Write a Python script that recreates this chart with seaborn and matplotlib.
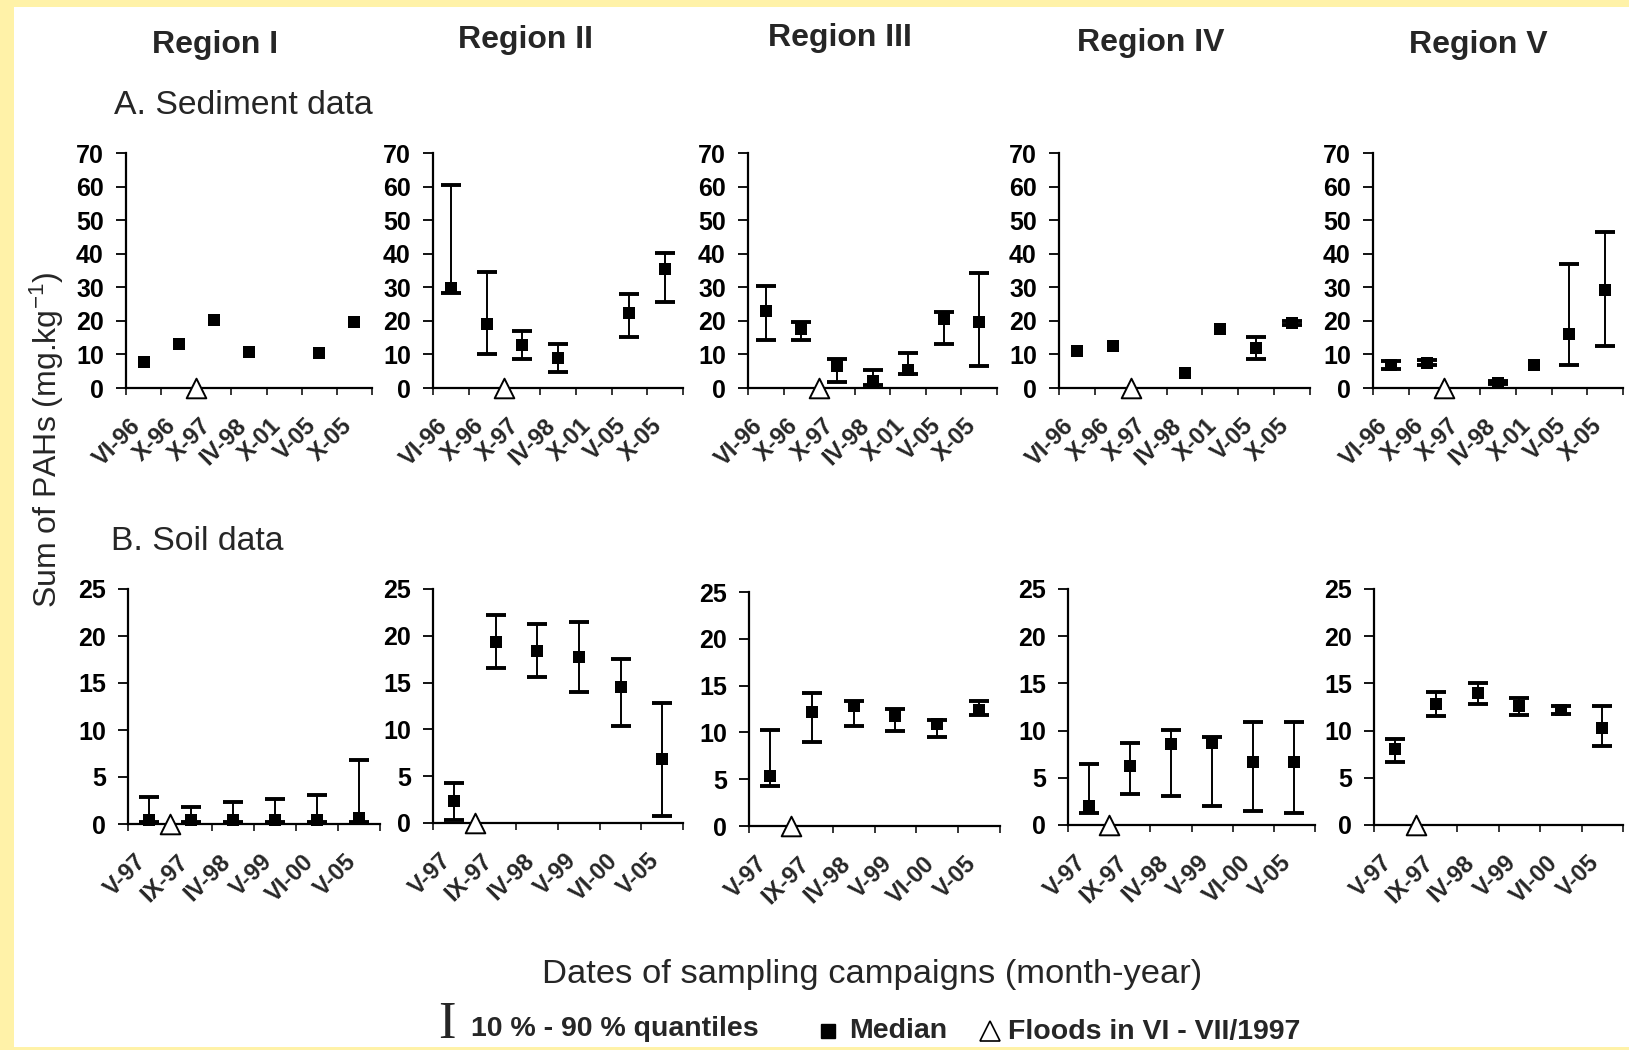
import numpy as np
import matplotlib
matplotlib.use("Agg")
import matplotlib.pyplot as plt
from matplotlib.patches import Rectangle
from matplotlib.lines import Line2D
import seaborn as sns

# ---------------- data ----------------
regions = ["Region I", "Region II", "Region III", "Region IV", "Region V"]
sed_dates = ["VI-96", "X-96", "X-97", "IV-98", "X-01", "V-05", "X-05"]
soil_dates = ["V-97", "IX-97", "IV-98", "V-99", "VI-00", "V-05"]
nan = np.nan

# Sediment (A): median, 10 % quantile, 90 % quantile
sed_med_I = [7.6, 13.2, 20.4, 10.8, nan, 10.3, 19.7]
sed_q10_I = [nan, nan, nan, nan, nan, nan, nan]
sed_q90_I = [nan, nan, nan, nan, nan, nan, nan]

sed_med_II = [29.9, 19.0, 12.7, 9.0, nan, 22.2, 35.5]
sed_q10_II = [28.2, 10.0, 8.6, 4.8, nan, 15.2, 25.7]
sed_q90_II = [60.6, 34.5, 16.9, 13.0, nan, 27.9, 40.1]

sed_med_III = [22.8, 17.7, 6.6, 2.0, 5.5, 20.5, 19.7]
sed_q10_III = [14.4, 14.4, 1.8, 0.8, 4.3, 13.0, 6.5]
sed_q90_III = [30.3, 19.6, 8.7, 5.5, 10.5, 22.5, 34.4]

sed_med_IV = [10.9, 12.6, nan, 4.5, 17.7, 11.9, 19.5]
sed_q10_IV = [nan, nan, nan, nan, nan, 8.7, 18.8]
sed_q90_IV = [nan, nan, nan, nan, nan, 15.2, 20.0]

sed_med_V = [6.8, 7.5, nan, 1.5, 7.0, 16.0, 29.1]
sed_q10_V = [5.8, 7.0, nan, 1.1, nan, 6.8, 12.4]
sed_q90_V = [8.0, 8.4, nan, 2.1, nan, 36.8, 46.5]

# Soil (B): median, 10 % quantile, 90 % quantile
soil_med_I = [0.4, 0.4, 0.4, 0.4, 0.4, 0.6]
soil_q10_I = [0.2, 0.2, 0.2, 0.2, 0.2, 0.2]
soil_q90_I = [2.9, 1.8, 2.3, 2.7, 3.1, 6.8]

soil_med_II = [2.4, 19.3, 18.4, 17.7, 14.5, 6.8]
soil_q10_II = [0.35, 16.6, 15.6, 14.0, 10.4, 0.8]
soil_q90_II = [4.3, 22.2, 21.3, 21.5, 17.5, 12.8]

soil_med_III = [5.3, 12.2, 12.8, 11.8, 10.9, 12.4]
soil_q10_III = [4.3, 9.0, 10.7, 10.2, 9.5, 11.9]
soil_q90_III = [10.3, 14.2, 13.4, 12.5, 11.3, 13.4]

soil_med_IV = [2.0, 6.3, 8.6, 8.7, 6.7, 6.7]
soil_q10_IV = [1.3, 3.3, 3.1, 2.0, 1.5, 1.3]
soil_q90_IV = [6.5, 8.7, 10.1, 9.3, 10.9, 10.9]

soil_med_V = [8.0, 12.8, 14.0, 12.6, 12.2, 10.3]
soil_q10_V = [6.7, 11.5, 12.8, 11.7, 11.8, 8.4]
soil_q90_V = [9.1, 14.1, 15.0, 13.5, 12.6, 12.6]

# flood (VI-VII/1997) falls between these campaigns (category-gap position)
flood_after_sed = "X-96"
flood_after_soil = "V-97"

sed_ymax, sed_step = 70, 10
soil_ymax, soil_step = 25, 5

sed_series = [(sed_med_I, sed_q10_I, sed_q90_I), (sed_med_II, sed_q10_II, sed_q90_II),
              (sed_med_III, sed_q10_III, sed_q90_III), (sed_med_IV, sed_q10_IV, sed_q90_IV),
              (sed_med_V, sed_q10_V, sed_q90_V)]
soil_series = [(soil_med_I, soil_q10_I, soil_q90_I), (soil_med_II, soil_q10_II, soil_q90_II),
               (soil_med_III, soil_q10_III, soil_q90_III), (soil_med_IV, soil_q10_IV, soil_q90_IV),
               (soil_med_V, soil_q10_V, soil_q90_V)]

# ---------------- style ----------------
sns.set_style("ticks")
plt.rcParams['font.family'] = ['Liberation Sans', 'DejaVu Sans']
plt.rcParams['mathtext.fontset'] = 'custom'
plt.rcParams['mathtext.rm'] = 'Liberation Sans'
plt.rcParams['mathtext.it'] = 'Liberation Sans:italic'
plt.rcParams['mathtext.bf'] = 'Liberation Sans:bold'

W, H = 1629, 1050
fig = plt.figure(figsize=(W / 100, H / 100), dpi=100)
fig.patch.set_facecolor("white")
YEL = "#FFF2A8"
for (x0, y0, w, h) in [(0, 0, 14, H), (0, 0, W, 7), (0, H - 3, W, 3)]:
    fig.add_artist(Rectangle((x0 / W, 1 - (y0 + h) / H), w / W, h / H,
                             transform=fig.transFigure, facecolor=YEL,
                             edgecolor="none", zorder=-10))


def px_axes(left, right, top, bottom):
    return fig.add_axes([left / W, 1 - bottom / H, (right - left) / W, (bottom - top) / H])


top_boxes = [(126, 372, 153, 388), (433, 683, 153, 388), (748, 997, 153, 388),
             (1059, 1310, 153, 388), (1373, 1623, 153, 388)]
bot_boxes = [(128, 380, 589, 824), (433, 683, 589, 823), (749, 1000, 592, 826),
             (1068, 1315, 589, 825), (1374, 1623, 589, 825)]


def draw_panel(ax, dates, med, lo, hi, ymax, step, flood_after):
    n = len(dates)
    pos = np.arange(n)
    med = np.asarray(med, float)
    lo = np.asarray(lo, float)
    hi = np.asarray(hi, float)
    ok = ~np.isnan(lo) & ~np.isnan(hi)
    if ok.any():
        ax.errorbar(pos[ok], (lo[ok] + hi[ok]) / 2, yerr=(hi[ok] - lo[ok]) / 2,
                    fmt='none', ecolor='black', elinewidth=1.4, capsize=7.5,
                    capthick=2.8, zorder=2, clip_on=False)
    m = ~np.isnan(med)
    sns.scatterplot(x=pos[m], y=med[m], marker='s', color='black', s=70,
                    linewidth=0, ax=ax, zorder=3, clip_on=False)
    fpos = dates.index(flood_after) + 0.5
    sns.scatterplot(x=[fpos], y=[0], marker='^', s=200, facecolor='white',
                    edgecolor='black', linewidth=1.4, ax=ax, zorder=5, clip_on=False)
    ax.set_xlim(-0.5, n - 0.5)
    ax.set_ylim(0, ymax)
    sns.despine(ax=ax)
    for sp in ("left", "bottom"):
        ax.spines[sp].set_linewidth(1.6)
        ax.spines[sp].set_color("black")
    ax.set_yticks(np.arange(0, ymax + 1, step))
    ax.set_yticklabels([str(v) for v in range(0, ymax + 1, step)],
                       fontsize=18, fontweight='bold')
    ax.tick_params(axis='y', direction='out', length=7, width=1.3, pad=9, colors='black')
    # category boundaries carry the tick marks; labels sit under category centres
    ax.set_xticks(np.arange(-0.5, n))
    ax.set_xticklabels([])
    ax.tick_params(axis='x', direction='out', length=5, width=1.3)
    for p, d in zip(pos, dates):
        ax.annotate(d, xy=(p, 0), xycoords=('data', 'axes fraction'),
                    xytext=(-10.5, -19), textcoords='offset points',
                    rotation=45, ha='right', va='top', rotation_mode='anchor',
                    fontsize=17, fontweight='bold', annotation_clip=False)
    ax.set_xlabel("")
    ax.set_ylabel("")
    ax.set_facecolor("none")


for i in range(5):
    ax = px_axes(*top_boxes[i])
    draw_panel(ax, sed_dates, *sed_series[i], sed_ymax, sed_step, flood_after_sed)
    ax = px_axes(*bot_boxes[i])
    draw_panel(ax, soil_dates, *soil_series[i], soil_ymax, soil_step, flood_after_soil)


def ftext(x, y, s, **kw):
    fig.text(x / W, 1 - y / H, s, **kw)


title_pos = [(215, 45), (526, 40), (840, 38), (1151, 43), (1478, 45)]
for name, (x, y) in zip(regions, title_pos):
    ftext(x, y, name, fontsize=23, fontweight='bold', ha='center', va='center')

ftext(114, 105, "A. Sediment data", fontsize=24.3, ha='left', va='center')
ftext(111, 541, "B. Soil data", fontsize=24.3, ha='left', va='center')
ftext(47, 440, "Sum of PAHs (mg.kg$^{-1}$)", fontsize=23, rotation=90,
      ha='center', va='center')
ftext(872, 975, "Dates of sampling campaigns (month-year)", fontsize=24.8,
      ha='center', va='center')

# legend row
ftext(447, 1025, "I", fontsize=38, family=['Liberation Serif'], ha='center', va='center')
ftext(471, 1029, "10 % - 90 % quantiles", fontsize=20.5, fontweight='bold',
      ha='left', va='center')
fig.add_artist(Line2D([828 / W], [1 - 1031 / H], marker='s', markersize=10,
                      color='black', linestyle='none', transform=fig.transFigure))
ftext(849, 1031, "Median", fontsize=20.5, fontweight='bold', ha='left', va='center')
fig.add_artist(Line2D([990 / W], [1 - 1031 / H], marker='^', markersize=14,
                      markerfacecolor='white', markeredgecolor='black',
                      markeredgewidth=1.2, linestyle='none', transform=fig.transFigure))
ftext(1008, 1032, "Floods in VI - VII/1997", fontsize=20.5, fontweight='bold',
      ha='left', va='center')

fig.savefig("out.png", dpi=100)
